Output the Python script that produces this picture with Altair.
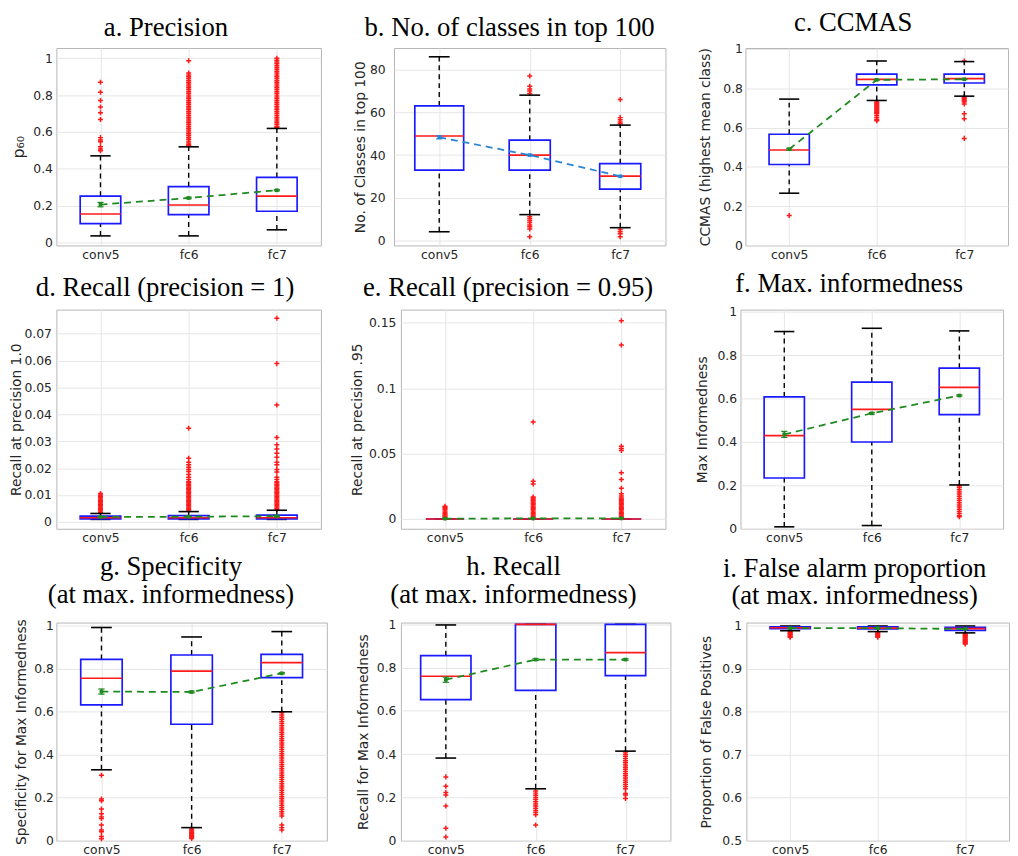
import altair as alt
import pandas as pd

CATS = ["conv5", "fc6", "fc7"]
POS = [1, 2, 3]

# ---- a. Precision
A_Q1 = [0.102, 0.151, 0.169]
A_MED = [0.154, 0.203, 0.251]
A_Q3 = [0.251, 0.303, 0.353]
A_LO = [0.035, 0.035, 0.068]
A_HI = [0.470, 0.519, 0.619]
A_MEAN = [0.205, 0.241, 0.283]
A_SE = [0.012, 0.004, 0.003]
A_OUT_CONV5 = [0.870, 0.816, 0.771, 0.736, 0.704, 0.667, 0.569, 0.556, 0.546, 0.519, 0.507, 0.498]
A_OUT_FC6 = [0.987, 0.920, 0.910, 0.900, 0.890, 0.880, 0.870, 0.860, 0.850, 0.840, 0.830, 0.820,
             0.810, 0.800, 0.790, 0.780, 0.770, 0.760, 0.750, 0.740, 0.730, 0.720, 0.710, 0.700,
             0.690, 0.680, 0.670, 0.660, 0.650, 0.640, 0.630, 0.620, 0.610, 0.600, 0.590, 0.580,
             0.570, 0.560, 0.550, 0.540, 0.530, 0.525]
A_OUT_FC7 = [1.000, 0.990, 0.980, 0.970, 0.960, 0.950, 0.940, 0.930, 0.920, 0.910, 0.900, 0.890,
             0.880, 0.870, 0.860, 0.850, 0.840, 0.830, 0.820, 0.810, 0.800, 0.790, 0.780, 0.770,
             0.760, 0.750, 0.740, 0.730, 0.720, 0.710, 0.700, 0.690, 0.680, 0.670, 0.660, 0.650,
             0.640, 0.630, 0.625]

# ---- b. No. of classes in top 100
B_Q1 = [33.0, 33.0, 24.1]
B_MED = [48.9, 40.0, 30.2]
B_Q3 = [63.0, 47.0, 36.0]
B_LO = [4.2, 12.2, 6.1]
B_HI = [85.9, 68.0, 54.0]
B_MEAN = [48.3, 40.0, 30.1]
B_SE = [0.7, 0.3, 0.2]
B_OUT_CONV5 = []
B_OUT_FC6 = [76.9, 72.1, 70.9, 69.9, 68.8, 11.2, 10.3, 9.4, 8.5, 7.4, 6.5, 5.5, 1.9]
B_OUT_FC7 = [66.0, 57.5, 56.5, 55.5, 54.6, 5.2, 4.2, 3.3, 1.9]

# ---- c. CCMAS
C_Q1 = [0.412, 0.817, 0.827]
C_MED = [0.486, 0.845, 0.849]
C_Q3 = [0.566, 0.872, 0.872]
C_LO = [0.266, 0.738, 0.760]
C_HI = [0.745, 0.939, 0.936]
C_MEAN = [0.490, 0.843, 0.846]
C_SE = [0.005, 0.002, 0.002]
C_OUT_CONV5 = [0.153]
C_OUT_FC6 = [0.730, 0.725, 0.720, 0.715, 0.710, 0.705, 0.700, 0.695, 0.690, 0.685, 0.680, 0.675,
             0.670, 0.660, 0.650, 0.640, 0.635]
C_OUT_FC7 = [0.939, 0.755, 0.750, 0.745, 0.740, 0.735, 0.730, 0.720, 0.671, 0.645, 0.545]

# ---- d. Recall (precision = 1)
D_Q1 = [0.0011, 0.0011, 0.0011]
D_MED = [0.0015, 0.0015, 0.0015]
D_Q3 = [0.0021, 0.0023, 0.0025]
D_LO = [0.0009, 0.0009, 0.0009]
D_HI = [0.0031, 0.0038, 0.0043]
D_MEAN = [0.0018, 0.0019, 0.0021]
D_SE = [0.0001, 0.0001, 0.0001]
D_OUT_CONV5 = [0.0105, 0.0100, 0.0095, 0.0090, 0.0085, 0.0080, 0.0075, 0.0070, 0.0065, 0.0060,
               0.0055, 0.0050, 0.0045, 0.0040, 0.0035]
D_OUT_FC6 = [0.0348, 0.0237, 0.0222, 0.0212, 0.0203, 0.0195, 0.0187, 0.0176, 0.0166, 0.0158,
             0.0150, 0.0145, 0.0140, 0.0135, 0.0130, 0.0125, 0.0120, 0.0115, 0.0110, 0.0105,
             0.0100, 0.0095, 0.0090, 0.0085, 0.0080, 0.0075, 0.0070, 0.0065, 0.0060, 0.0055,
             0.0050, 0.0045, 0.0040]
D_OUT_FC7 = [0.0758, 0.0589, 0.0435, 0.0314, 0.0287, 0.0271, 0.0255, 0.0240, 0.0222, 0.0212,
             0.0195, 0.0185, 0.0166, 0.0158, 0.0150, 0.0145, 0.0140, 0.0135, 0.0130, 0.0125,
             0.0120, 0.0115, 0.0110, 0.0105, 0.0100, 0.0095, 0.0090, 0.0085, 0.0080, 0.0075,
             0.0070, 0.0065, 0.0060, 0.0055, 0.0050, 0.0046]

# ---- e. Recall (precision = 0.95)
E_Q1 = [0.0, 0.0, 0.0]
E_MED = [0.0, 0.0, 0.0]
E_Q3 = [0.0, 0.0, 0.0]
E_LO = [0.0, 0.0, 0.0]
E_HI = [0.0, 0.0, 0.0]
E_MEAN = [0.0003, 0.0004, 0.0005]
E_SE = [0.0001, 0.0001, 0.0001]
E_OUT_CONV5 = [0.0098, 0.0090, 0.0080, 0.0070, 0.0060, 0.0050, 0.0040, 0.0030, 0.0023, 0.0015, 0.0010]
E_OUT_FC6 = [0.0741, 0.0288, 0.0268, 0.0168, 0.0160, 0.0150, 0.0140, 0.0130, 0.0120, 0.0110,
             0.0100, 0.0090, 0.0080, 0.0070, 0.0060, 0.0050, 0.0040, 0.0030, 0.0020, 0.0010]
E_OUT_FC7 = [0.1515, 0.1330, 0.0556, 0.0538, 0.0523, 0.0353, 0.0301, 0.0235, 0.0193, 0.0175,
             0.0160, 0.0150, 0.0140, 0.0130, 0.0120, 0.0110, 0.0100, 0.0090, 0.0080, 0.0070,
             0.0060, 0.0050, 0.0040, 0.0030, 0.0020, 0.0010]

# ---- f. Max. informedness
F_Q1 = [0.234, 0.400, 0.526]
F_MED = [0.429, 0.550, 0.652]
F_Q3 = [0.608, 0.676, 0.740]
F_LO = [0.009, 0.015, 0.202]
F_HI = [0.909, 0.924, 0.912]
F_MEAN = [0.435, 0.532, 0.614]
F_SE = [0.014, 0.004, 0.003]
F_OUT_CONV5 = []
F_OUT_FC6 = []
F_OUT_FC7 = [0.198, 0.190, 0.180, 0.170, 0.160, 0.150, 0.140, 0.130, 0.120, 0.110, 0.100, 0.090,
             0.080, 0.070, 0.060, 0.055]

# ---- g. Specificity
G_Q1 = [0.632, 0.542, 0.759]
G_MED = [0.756, 0.789, 0.829]
G_Q3 = [0.844, 0.864, 0.867]
G_LO = [0.330, 0.061, 0.600]
G_HI = [0.992, 0.948, 0.973]
G_MEAN = [0.694, 0.692, 0.779]
G_SE = [0.012, 0.004, 0.003]
G_OUT_CONV5 = [0.305, 0.194, 0.186, 0.148, 0.126, 0.111, 0.103, 0.073, 0.050, 0.042, 0.020, 0.009]
G_OUT_FC6 = [0.055, 0.050, 0.045, 0.040, 0.035, 0.030, 0.025, 0.020, 0.015, 0.010]
G_OUT_FC7 = [0.595, 0.585, 0.575, 0.565, 0.555, 0.545, 0.535, 0.525, 0.515, 0.505, 0.495, 0.485,
             0.475, 0.465, 0.455, 0.445, 0.435, 0.425, 0.415, 0.405, 0.395, 0.385, 0.375, 0.365,
             0.355, 0.345, 0.335, 0.325, 0.315, 0.305, 0.295, 0.285, 0.275, 0.265, 0.255, 0.245,
             0.235, 0.225, 0.215, 0.205, 0.195, 0.185, 0.175, 0.165, 0.155, 0.145, 0.135, 0.125,
             0.115, 0.073, 0.061, 0.050]

# ---- h. Recall
H_Q1 = [0.652, 0.695, 0.763]
H_MED = [0.760, 1.000, 0.869]
H_Q3 = [0.855, 1.000, 1.000]
H_LO = [0.382, 0.240, 0.414]
H_HI = [0.997, 1.000, 1.000]
H_MEAN = [0.744, 0.837, 0.837]
H_SE = [0.012, 0.004, 0.003]
H_OUT_CONV5 = [0.295, 0.252, 0.223, 0.211, 0.160, 0.058, 0.017]
H_OUT_FC6 = [0.230, 0.220, 0.210, 0.200, 0.190, 0.180, 0.170, 0.160, 0.150, 0.140, 0.130, 0.120, 0.073]
H_OUT_FC7 = [0.410, 0.400, 0.390, 0.380, 0.370, 0.360, 0.350, 0.340, 0.330, 0.320, 0.310, 0.300,
             0.290, 0.280, 0.270, 0.260, 0.250, 0.240, 0.218, 0.211, 0.195]

# ---- i. False alarm proportion
I_Q1 = [0.994, 0.993, 0.990]
I_MED = [0.996, 0.995, 0.994]
I_Q3 = [0.998, 0.998, 0.997]
I_LO = [0.989, 0.987, 0.984]
I_HI = [1.000, 1.000, 1.000]
I_MEAN = [0.995, 0.995, 0.993]
I_SE = [0.0005, 0.0005, 0.0005]
I_OUT_CONV5 = [0.987, 0.985, 0.983, 0.981, 0.979, 0.977, 0.975, 0.974]
I_OUT_FC6 = [0.986, 0.984, 0.982, 0.980, 0.978, 0.976, 0.974]
I_OUT_FC7 = [0.982, 0.980, 0.978, 0.976, 0.974, 0.972, 0.970, 0.968, 0.966, 0.964, 0.962, 0.960, 0.958]

GREEN = "#1f8a1f"
MBLUE = "#2a84d2"
BOXBLUE = "#1a1aff"
RED = "#ff1a1a"
PLUS = "M-1,0L1,0M0,-1L0,1"
CAP = 0.115


def panel(title, ytitle, q1, med, q3, lo, hi, mean, se, outs, ydom, yticks,
          mcolor, w, h, hw, toff, lp, tp, ytsize=14):
    stats = pd.DataFrame({"pos": POS, "q1": q1, "med": med, "q3": q3, "lo": lo,
                          "hi": hi, "mean": mean, "se": se, "hw": hw})
    rows = [{"pos": p, "v": v} for p, vals in zip(POS, outs) for v in vals]
    odf = pd.DataFrame(rows, columns=["pos", "v"])

    xs = alt.Scale(domain=[0.5, 3.5], nice=False, zero=False)
    ys = alt.Scale(domain=ydom, nice=False, zero=False)
    xax = alt.Axis(values=POS, labelExpr="['conv5','fc6','fc7'][datum.value-1]",
                   grid=True, title=None, labelPadding=3)
    yax = alt.Axis(values=yticks, format="~r", grid=True, title=ytitle,
                   titleFontSize=ytsize, labelPadding=lp, titlePadding=tp)

    def X(f):
        return alt.X(f, type="quantitative", scale=xs, axis=xax)

    def Y(f):
        return alt.Y(f, type="quantitative", scale=ys, axis=yax)

    base = alt.Chart(stats).transform_calculate(
        xl="datum.pos - datum.hw", xr="datum.pos + datum.hw",
        cl="datum.pos - %f" % CAP, cr="datum.pos + %f" % CAP,
        ml="datum.mean - datum.se", mh="datum.mean + datum.se",
        el="datum.pos - 0.035", er="datum.pos + 0.035")

    wh_hi = base.mark_rule(color="black", strokeDash=[5, 4], strokeWidth=1.4).encode(
        x=X("pos"), y=Y("q3"), y2="hi:Q")
    wh_lo = base.mark_rule(color="black", strokeDash=[5, 4], strokeWidth=1.4).encode(
        x=X("pos"), y=Y("lo"), y2="q1:Q")
    cap_hi = base.mark_rule(color="black", strokeWidth=1.6).encode(
        x=X("cl"), x2="cr:Q", y=Y("hi"))
    cap_lo = base.mark_rule(color="black", strokeWidth=1.6).encode(
        x=X("cl"), x2="cr:Q", y=Y("lo"))
    outl = alt.Chart(odf).mark_point(shape=PLUS, filled=False, color=RED, size=26,
                                     strokeWidth=1.5, opacity=1).encode(
        x=X("pos"), y=Y("v"))
    box = base.mark_rect(fillOpacity=0, stroke=BOXBLUE, strokeWidth=1.7).encode(
        x=X("xl"), x2="xr:Q", y=Y("q1"), y2="q3:Q")
    medl = base.mark_rule(color=RED, strokeWidth=1.7).encode(
        x=X("xl"), x2="xr:Q", y=Y("med"))
    mline = base.mark_line(color=mcolor, strokeDash=[7, 5], strokeWidth=1.8).encode(
        x=X("pos"), y=Y("mean"))
    merr = base.mark_rule(color=mcolor, strokeWidth=1.5).encode(
        x=X("pos"), y=Y("ml"), y2="mh:Q")
    mcap1 = base.mark_rule(color=mcolor, strokeWidth=1.2).encode(
        x=X("el"), x2="er:Q", y=Y("ml"))
    mcap2 = base.mark_rule(color=mcolor, strokeWidth=1.2).encode(
        x=X("el"), x2="er:Q", y=Y("mh"))
    mpt = base.mark_point(shape="square", filled=True, size=14, color=mcolor, opacity=1).encode(
        x=X("pos"), y=Y("mean"))

    return alt.layer(outl, wh_hi, wh_lo, cap_hi, cap_lo, box, medl, mline, merr,
                     mcap1, mcap2, mpt).properties(
        width=w, height=h,
        title=alt.TitleParams(text=title, font="Liberation Serif", fontSize=27,
                              fontWeight="normal", color="black", anchor="middle",
                              frame="bounds", offset=toff, lineHeight=28))


T01 = [0, 0.2, 0.4, 0.6, 0.8, 1]
HW = [0.23, 0.23, 0.23]

pa = panel("a. Precision", "p₆₀", A_Q1, A_MED, A_Q3, A_LO, A_HI, A_MEAN, A_SE,
           [A_OUT_CONV5, A_OUT_FC6, A_OUT_FC7], [-0.017, 1.056], T01, GREEN,
           268, 200, HW, 6, 4, 6, ytsize=16)
pb = panel("b. No. of classes in top 100", "No. of Classes in top 100", B_Q1, B_MED, B_Q3,
           B_LO, B_HI, B_MEAN, B_SE, [B_OUT_CONV5, B_OUT_FC6, B_OUT_FC7], [-2.2, 90],
           [0, 20, 40, 60, 80], MBLUE, 275, 200, [0.27, 0.227, 0.227], 6, 9, 2)
pc = panel("c. CCMAS", "CCMAS (highest mean class)", C_Q1, C_MED, C_Q3, C_LO, C_HI,
           C_MEAN, C_SE, [C_OUT_CONV5, C_OUT_FC6, C_OUT_FC7], [0, 1.005], T01, GREEN,
           266, 200, HW, 6, 3, 11)

pd_ = panel("d. Recall (precision = 1)", "Recall at precision 1.0", D_Q1, D_MED, D_Q3, D_LO,
            D_HI, D_MEAN, D_SE, [D_OUT_CONV5, D_OUT_FC6, D_OUT_FC7], [-0.0026, 0.079],
            [0, 0.01, 0.02, 0.03, 0.04, 0.05, 0.06, 0.07], GREEN, 268, 222, HW, 8, 5, 1)
pe = panel("e. Recall (precision = 0.95)", "Recall at precision .95", E_Q1, E_MED, E_Q3,
           E_LO, E_HI, E_MEAN, E_SE, [E_OUT_CONV5, E_OUT_FC6, E_OUT_FC7], [-0.0075, 0.16],
           [0, 0.05, 0.1, 0.15], GREEN, 268, 222, [0.217, 0.227, 0.225], 8, 5, 4)
pf = panel("f. Max. informedness", "Max Informedness", F_Q1, F_MED, F_Q3, F_LO, F_HI,
           F_MEAN, F_SE, [F_OUT_CONV5, F_OUT_FC6, F_OUT_FC7], [0, 1.01], T01, GREEN,
           266, 222, HW, 8, 4, 8)

pg = panel(["g. Specificity", "(at max. informedness)"], "Specificity for Max Informedness",
           G_Q1, G_MED, G_Q3, G_LO, G_HI, G_MEAN, G_SE, [G_OUT_CONV5, G_OUT_FC6, G_OUT_FC7],
           [0, 1.015], T01, GREEN, 274, 221, HW, 10, 3, 5)
ph = panel(["h. Recall", "(at max. informedness)"], "Recall for Max Informedness",
           H_Q1, H_MED, H_Q3, H_LO, H_HI, H_MEAN, H_SE, [H_OUT_CONV5, H_OUT_FC6, H_OUT_FC7],
           [0, 1.008], T01, GREEN, 273, 221, [0.28, 0.225, 0.225], 10, 5, 6)
pi = panel(["i. False alarm proportion", "(at max. informedness)"], "Proportion of False Positives",
           I_Q1, I_MED, I_Q3, I_LO, I_HI, I_MEAN, I_SE, [I_OUT_CONV5, I_OUT_FC6, I_OUT_FC7],
           [0.5, 1.008], [0.5, 0.6, 0.7, 0.8, 0.9, 1], GREEN, 266, 221, HW, 10, 5, 8)

chart = alt.vconcat(
    alt.hconcat(pa, pb, pc, spacing=31),
    alt.hconcat(pd_, pe, pf, spacing=28),
    alt.hconcat(pg, ph, pi, spacing=28),
    spacing=8,
).properties(padding={"top": -5, "left": 0, "right": 0, "bottom": 0}).configure_axis(
    labelFont="DejaVu Sans", labelFontSize=12.5, labelColor="#262626",
    titleFont="DejaVu Sans", titleFontWeight="normal", titleColor="#262626",
    gridColor="#e6e6e6", domain=False, ticks=False, tickSize=0,
).configure_view(stroke="#b5b5b5", strokeWidth=1)

chart.save("out.html", embed_options={"renderer": "svg", "actions": False})
